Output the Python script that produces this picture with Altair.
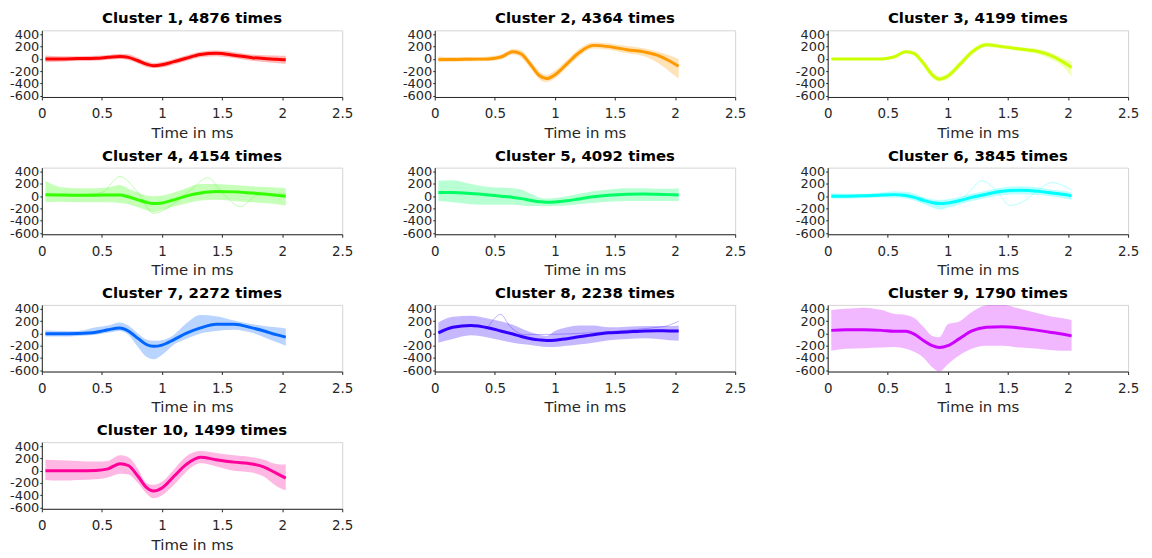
import altair as alt
import pandas as pd

# Shared sample times (ms)
T = [0.03, 0.15, 0.3, 0.45, 0.55, 0.65, 0.72, 0.8, 0.87, 0.93,
     1.0, 1.1, 1.2, 1.32, 1.45, 1.6, 1.75, 1.85, 1.95, 2.03]

TITLES = ["Cluster 1, 4876 times", "Cluster 2, 4364 times", "Cluster 3, 4199 times",
          "Cluster 4, 4154 times", "Cluster 5, 4092 times", "Cluster 6, 3845 times",
          "Cluster 7, 2272 times", "Cluster 8, 2238 times", "Cluster 9, 1790 times",
          "Cluster 10, 1499 times"]
COLORS = ["#FF0000", "#FF9900", "#CCFF00", "#33FF00", "#00FF66",
          "#00FFFF", "#0066FF", "#3300FF", "#CC00FF", "#FF0099"]

C1_MEAN = [0, 0, 5, 10, 25, 40, 25, -30, -85, -110, -95, -45, 10, 70, 90, 60, 20, 5, -5, -15]
C1_UP = [55, 45, 45, 50, 65, 85, 75, 20, -40, -65, -50, 0, 55, 115, 135, 110, 70, 60, 55, 50]
C1_LO = [-55, -45, -35, -30, -15, 0, -20, -75, -130, -150, -140, -90, -35, 25, 45, 15, -30, -50, -65, -80]

C2_MEAN = [-10, -10, -5, 0, 30, 115, 80, -100, -270, -320, -260, -80, 100, 220, 200, 150, 110, 60, -30, -120]
C2_UP = [40, 30, 30, 40, 70, 160, 140, -40, -200, -260, -190, -20, 160, 265, 250, 210, 170, 120, 60, 0]
C2_LO = [-50, -45, -40, -35, -10, 70, 20, -160, -330, -380, -320, -140, 40, 170, 150, 90, 40, -60, -200, -320]

C3_MEAN = [0, 0, 0, 0, 30, 115, 85, -80, -260, -330, -280, -90, 110, 230, 200, 160, 120, 60, -40, -140]
C3_UP = [10, 10, 10, 15, 50, 145, 130, -30, -200, -280, -230, -40, 160, 265, 235, 195, 160, 110, 20, -40]
C3_LO = [-10, -10, -10, -10, 15, 90, 50, -130, -310, -370, -330, -140, 60, 195, 165, 125, 80, 0, -110, -290]

C4_MEAN = [25, 20, 15, 15, 20, 20, -10, -60, -100, -120, -110, -60, 0, 50, 75, 70, 50, 35, 15, 0]
C4_UP = [250, 150, 130, 130, 140, 180, 120, 60, 10, 0, 10, 60, 130, 200, 200, 180, 160, 150, 140, 130]
C4_LO = [-100, -90, -100, -100, -100, -110, -130, -180, -230, -260, -230, -170, -120, -70, -60, -80, -100, -110, -130, -150]

C5_MEAN = [60, 60, 45, 20, 0, -20, -40, -70, -90, -100, -95, -75, -45, -10, 15, 30, 35, 30, 25, 20]
C5_UP = [250, 260, 200, 150, 140, 130, 110, 40, -20, -40, -30, 0, 40, 80, 110, 130, 130, 120, 120, 130]
C5_LO = [-80, -100, -130, -140, -140, -140, -150, -160, -160, -165, -160, -150, -130, -110, -90, -80, -80, -80, -80, -80]

C6_MEAN = [0, 0, 5, 20, 25, 10, -20, -70, -105, -120, -110, -70, -20, 30, 80, 95, 80, 55, 30, 5]
C6_UP = [50, 40, 40, 60, 80, 70, 40, -20, -50, -60, -50, -10, 40, 90, 140, 160, 140, 110, 90, 60]
C6_LO = [-40, -40, -30, -20, -20, -40, -70, -130, -180, -220, -190, -130, -80, -30, 20, 30, 20, 0, -30, -60]

C7_MEAN = [-5, -5, 0, 20, 60, 90, 40, -80, -180, -210, -190, -100, 0, 90, 150, 150, 90, 40, -20, -60]
C7_UP = [50, 40, 40, 100, 130, 180, 130, 0, -100, -120, -110, -20, 160, 300, 280, 210, 150, 120, 100, 80]
C7_LO = [-50, -50, -40, -20, 10, 40, -20, -220, -380, -420, -350, -180, -90, 0, 40, 60, 10, -60, -140, -200]

C8_MEAN = [10, 100, 130, 90, 40, -10, -50, -85, -105, -115, -110, -85, -55, -20, 10, 25, 40, 45, 40, 40]
C8_UP = [180, 270, 290, 240, 200, 140, 80, 20, -20, -40, 40, 100, 130, 130, 100, 110, 120, 120, 120, 130]
C8_LO = [-150, -90, -30, -70, -110, -150, -170, -190, -210, -220, -220, -200, -180, -150, -110, -90, -80, -90, -110, -120]

C9_MEAN = [50, 60, 60, 50, 35, 35, -10, -120, -200, -230, -200, -80, 40, 100, 110, 90, 50, 20, -10, -40]
C9_UP = [380, 400, 420, 380, 320, 300, 250, 100, -40, -60, 150, 200, 350, 460, 470, 400, 330, 280, 250, 220]
C9_LO = [-280, -250, -240, -230, -220, -250, -300, -400, -550, -620, -500, -350, -250, -200, -200, -230, -250, -270, -280, -280]

C10_MEAN = [0, 0, 0, 5, 30, 115, 85, -90, -270, -330, -280, -90, 100, 220, 180, 140, 110, 60, -40, -120]
C10_UP = [180, 170, 160, 150, 160, 250, 220, 30, -200, -230, -180, 20, 230, 320, 290, 250, 220, 180, 110, 100]
C10_LO = [-150, -160, -150, -140, -110, -50, -60, -200, -370, -450, -400, -230, -20, 120, 70, 0, -30, -100, -250, -320]

# A few individual outlying traces visible in the picture
C4_OUT_T = [0.03, 0.3, 0.5, 0.65, 0.8, 0.93, 1.1, 1.25, 1.38, 1.5, 1.65, 1.8, 2.03]
C4_OUT_Y = [0, 20, 60, 320, 60, -280, -120, 120, 300, 60, -170, 20, 40]
C6_OUT_T = [1.0, 1.1, 1.2, 1.28, 1.4, 1.52, 1.65, 1.75, 1.87, 1.95, 2.03]
C6_OUT_Y = [-110, -70, 120, 250, 100, -150, -60, 100, 220, 180, 100]
C8_OUT_T = [0.45, 0.55, 0.62, 0.75, 1.9, 2.03]
C8_OUT_Y = [120, 310, 130, -20, 110, 200]

MEANS = [C1_MEAN, C2_MEAN, C3_MEAN, C4_MEAN, C5_MEAN, C6_MEAN, C7_MEAN, C8_MEAN, C9_MEAN, C10_MEAN]
UPS = [C1_UP, C2_UP, C3_UP, C4_UP, C5_UP, C6_UP, C7_UP, C8_UP, C9_UP, C10_UP]
LOS = [C1_LO, C2_LO, C3_LO, C4_LO, C5_LO, C6_LO, C7_LO, C8_LO, C9_LO, C10_LO]
OUTLIERS = {3: (C4_OUT_T, C4_OUT_Y), 5: (C6_OUT_T, C6_OUT_Y), 7: (C8_OUT_T, C8_OUT_Y)}

FONT = "DejaVu Sans"
INK = "#262626"

x_scale = alt.Scale(domain=[0, 2.5], nice=False)
y_scale = alt.Scale(domain=[-620, 465], nice=False, zero=False)
x_axis = alt.Axis(values=[0, 0.5, 1, 1.5, 2, 2.5], labelExpr="datum.value + ''",
                  title="Time in ms", grid=False, tickSize=3, labelPadding=7,
                  titlePadding=5, labelFontSize=13.5, titleFontSize=15,
                  titleFontWeight="normal", labelFlush=False,
                  labelFont=FONT, titleFont=FONT, labelColor=INK, titleColor=INK,
                  domainColor=INK, tickColor=INK)
y_axis = alt.Axis(values=[-600, -400, -200, 0, 200, 400], labelExpr="datum.value + ''",
                  title=None, grid=False, tickSize=2, labelPadding=1,
                  labelFontSize=13, labelOverlap=False, labelFlush=False,
                  labelFont=FONT, labelColor=INK, domainColor=INK, tickColor=INK)

panels = []
for i in range(10):
    df = pd.DataFrame({"t": T, "mean": MEANS[i], "up": UPS[i], "lo": LOS[i]})
    col = COLORS[i]
    band = alt.Chart(df).mark_area(color=col, opacity=0.28, interpolate="monotone", clip=True).encode(
        x=alt.X("t:Q", scale=x_scale, axis=x_axis),
        y=alt.Y("lo:Q", scale=y_scale, axis=y_axis),
        y2="up:Q",
    )
    layers = [band]
    if i in OUTLIERS:
        ot, oy = OUTLIERS[i]
        odf = pd.DataFrame({"t": ot, "v": oy})
        layers.append(alt.Chart(odf).mark_line(color=col, opacity=0.3, strokeWidth=1,
                                               interpolate="monotone", clip=True).encode(
            x=alt.X("t:Q", scale=x_scale, axis=x_axis),
            y=alt.Y("v:Q", scale=y_scale, axis=y_axis)))
    line = alt.Chart(df).mark_line(color=col, strokeWidth=3, interpolate="monotone", clip=True).encode(
        x=alt.X("t:Q", scale=x_scale, axis=x_axis),
        y=alt.Y("mean:Q", scale=y_scale, axis=y_axis),
    )
    layers.append(line)
    panel = alt.layer(*layers).properties(
        width=302, height=67,
        title=alt.TitleParams(TITLES[i], fontSize=15, fontWeight="bold", font=FONT,
                              color="#000000", offset=2),
    )
    panels.append(panel)

chart = alt.concat(*panels, columns=3, spacing={"row": 71, "column": 93}, bounds="flush").properties(
    padding={"left": 0, "top": 1, "right": 4, "bottom": 2},
    background="white",
).configure_view(stroke="#d4d4d4", strokeWidth=1)

chart.save("out.html", embed_options={"renderer": "svg", "actions": False})
